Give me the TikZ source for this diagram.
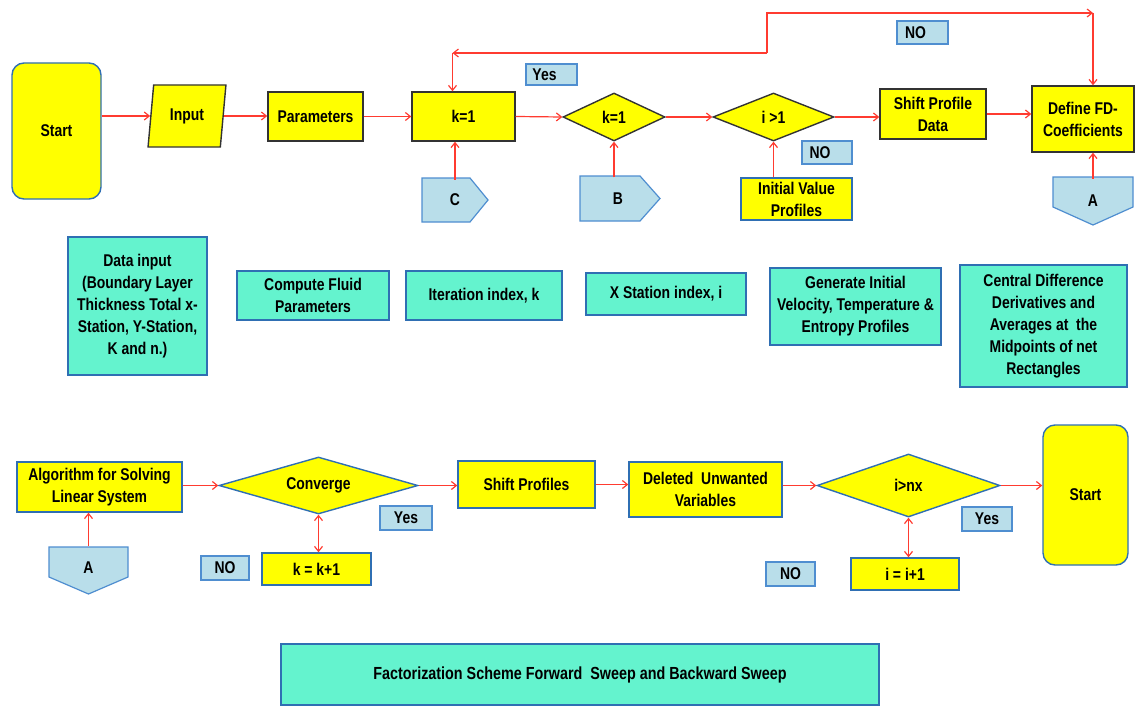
\documentclass[tikz,border=0pt]{standalone}
\usepackage{fontspec}
\setmainfont{Liberation Sans}[FakeStretch=0.82]
\usetikzlibrary{shapes.geometric,arrows.meta,calc}
\definecolor{yel}{HTML}{FFFF00}
\definecolor{teal1}{HTML}{64F3CE}
\definecolor{tealb}{HTML}{2F6FB3}
\definecolor{lblf}{HTML}{B9DEEA}
\definecolor{lblb}{HTML}{4F8ED0}
\definecolor{redl}{HTML}{FF3B30}
\definecolor{darkb}{HTML}{333333}
\begin{document}
\begin{tikzpicture}[x=1pt,y=-1pt,
  every node/.style={font=\bfseries\fontsize{17}{22}\selectfont, align=center, inner sep=1pt},
  ybox/.style={draw=darkb, fill=yel, line width=1.4pt, minimum width=#1},
  yboxb/.style={draw=tealb, fill=yel, line width=1.4pt, minimum width=#1},
  tbox/.style={draw=tealb, fill=teal1, line width=1.4pt, minimum width=#1},
  lbl/.style={draw=lblb, fill=lblf, line width=1.2pt, minimum width=#1},
  dia/.style={diamond, fill=yel, line width=1.4pt, inner sep=0pt},
  pent/.style={draw=lblb, fill=lblf, line width=1.2pt},
  arr/.style={draw=redl, line width=1.2pt, -{Straight Barb[length=5pt,width=8pt]}},
  darr/.style={draw=redl, line width=1.2pt, {Straight Barb[length=5pt,width=8pt]}-{Straight Barb[length=5pt,width=8pt]}}
]
\useasboundingbox (0,0) rectangle (1145,706);
% pentagon shapes (off-page connectors)
\filldraw[pent] (422,178) -- (470,178) -- (488,200) -- (470,222) -- (422,222) -- cycle;
\filldraw[pent] (580,176) -- (640,176) -- (660,198.5) -- (640,221) -- (580,221) -- cycle;
\filldraw[pent] (1053,177) -- (1133,177) -- (1133,207) -- (1093,225) -- (1053,207) -- cycle;
\filldraw[pent] (49,547) -- (128,547) -- (128,577) -- (88.5,594) -- (49,577) -- cycle;
% top row
\node[draw=tealb, fill=yel, line width=1.4pt, rounded corners=12pt, minimum width=89, minimum height=136] (start) at (56.5,131) {Start};
\node[trapezium, trapezium stretches=true, trapezium left angle=80, trapezium right angle=100, draw=darkb, fill=yel, line width=1.4pt, minimum width=78, minimum height=62] (inp) at (187,116) {Input};
\node[ybox=95, minimum height=49] (par) at (315.5,116.5) {Parameters};
\node[ybox=103, minimum height=49] (k1) at (463.5,116.5) {k=1};
\node[dia, draw=darkb, aspect=2.1, minimum width=102, minimum height=48] (d1) at (614,117) {k=1};
\node[dia, draw=darkb, aspect=2.5, minimum width=121, minimum height=48] (d2) at (773.5,117) {i {>}1};
\node[ybox=106, minimum height=50] (spd) at (933,114) {Shift Profile\\Data};
\node[ybox=102, minimum height=66] (fd) at (1083,119) {Define FD-\\Coefficients};
\node[lbl=51, minimum height=21] (yes1) at (551.5,74.5) {Yes\hspace*{14pt}};
\node[lbl=51, minimum height=23] (no1) at (922.5,32.5) {NO\hspace*{14pt}};
\node[lbl=50, minimum height=23] (no2) at (827,152.5) {NO\hspace*{14pt}};
\node[minimum width=66, minimum height=44] (C) at (455,200) {C};
\node[minimum width=80, minimum height=45] (B) at (618,198.5) {B};
\node[yboxb=111, minimum height=42] (init) at (796.5,199) {Initial Value\\Profiles};
\node[minimum width=80, minimum height=48] (A1) at (1093,201) {A};
% teal row
\node[tbox=139, minimum height=138] (di) at (137.5,306) {Data input\\(Boundary Layer\\Thickness Total x-\\Station, Y-Station,\\K and n.)};
\node[tbox=152, minimum height=49] (cf) at (313,295.5) {Compute Fluid\\Parameters};
\node[tbox=156, minimum height=49] (ii) at (484,295.5) {Iteration index, k};
\node[tbox=160, minimum height=42] (xs) at (666,294) {X Station index, i};
\node[tbox=171, minimum height=77] (gi) at (855.5,306.5) {Generate Initial\\Velocity, Temperature \&\\Entropy Profiles};
\node[tbox=167, minimum height=122] (cd) at (1043.5,326) {Central Difference\\Derivatives and\\Averages at\ \ the\\Midpoints of net\\Rectangles};
% bottom row
\node[yboxb=165, minimum height=50] (alg) at (99.5,487) {Algorithm for Solving\\Linear System};
\node[dia, draw=tealb, aspect=3.5, minimum width=199, minimum height=57] (conv) at (318.5,485.5) {Converge};
\node[yboxb=137, minimum height=47] (sp) at (526.5,484.5) {Shift Profiles};
\node[yboxb=153, minimum height=55] (del) at (705.5,489.5) {Deleted\ \ Unwanted\\Variables};
\node[dia, draw=tealb, aspect=2.9, minimum width=183, minimum height=63] (dnx) at (908.5,485.5) {i{>}nx};
\node[draw=tealb, fill=yel, line width=1.4pt, rounded corners=12pt, minimum width=85, minimum height=140] (start2) at (1085.5,495) {Start};
\node[lbl=52, minimum height=24] (yes2) at (406,518) {Yes};
\node[lbl=48, minimum height=24] (no3) at (225,568) {NO};
\node[yboxb=109, minimum height=32] (kk) at (316.5,569) {k = k+1};
\node[minimum width=79, minimum height=47] (A2) at (88.5,568) {A};
\node[lbl=50, minimum height=24] (yes3) at (987,519) {Yes};
\node[lbl=49, minimum height=24] (no4) at (790.5,574) {NO};
\node[yboxb=108, minimum height=32] (ii1) at (905,574) {i = i+1};
\node[tbox=598, minimum height=61] (fact) at (580,674.5) {\fontsize{17.5}{22}\selectfont Factorization Scheme Forward\ \ Sweep and Backward Sweep};
% connectors top
\draw[arr] (start.east |- inp.west) -- (inp.west);
\draw[arr] (inp.east) -- (inp.east -| par.west);
\draw[arr] (par.east) -- (k1.west);
\draw[arr] (k1.east) -- (d1.west);
\draw[arr] (d1.east) -- (d2.west);
\draw[arr] (d2.east) -- (d2.east -| spd.west);
\draw[arr] (spd.east) -- (spd.east -| fd.west);
\draw[arr] ([yshift=-2pt]C.north) -- (C.north |- k1.south);
\draw[arr] ([yshift=-1.5pt]d1.south |- B.north) -- (d1.south);
\draw[arr] (d2.south |- init.north) -- (d2.south);
\draw[arr] ([yshift=-2pt]A1.north) -- (A1.north |- fd.south);
\coordinate (L1) at (767,53);
\coordinate (L2) at (767,13);
\coordinate (kin) at ([xshift=-11pt]k1.north);
\coordinate (fin) at ([xshift=10pt]fd.north);
\draw[arr] (L1) -- (kin |- L1);
\draw[arr] (kin |- L1) -- (kin);
\draw[arr] (L1) -- (L2) -- (fin |- L2);
\draw[arr] (fin |- L2) -- (fin);
% connectors bottom
\draw[arr] (alg.east |- conv.west) -- (conv.west);
\draw[arr] (conv.east) -- (conv.east -| sp.west);
\draw[arr] (sp.east) -- (sp.east -| del.west);
\draw[arr] (dnx.west -| del.east) -- (dnx.west);
\draw[arr] (dnx.east) -- (dnx.east -| start2.west);
\draw[arr] ([yshift=-2pt]A2.north) -- (A2.north |- alg.south);
\draw[darr] (conv.south) -- (conv.south |- kk.north);
\draw[darr] (dnx.south) -- (dnx.south |- ii1.north);
\end{tikzpicture}
\end{document}
